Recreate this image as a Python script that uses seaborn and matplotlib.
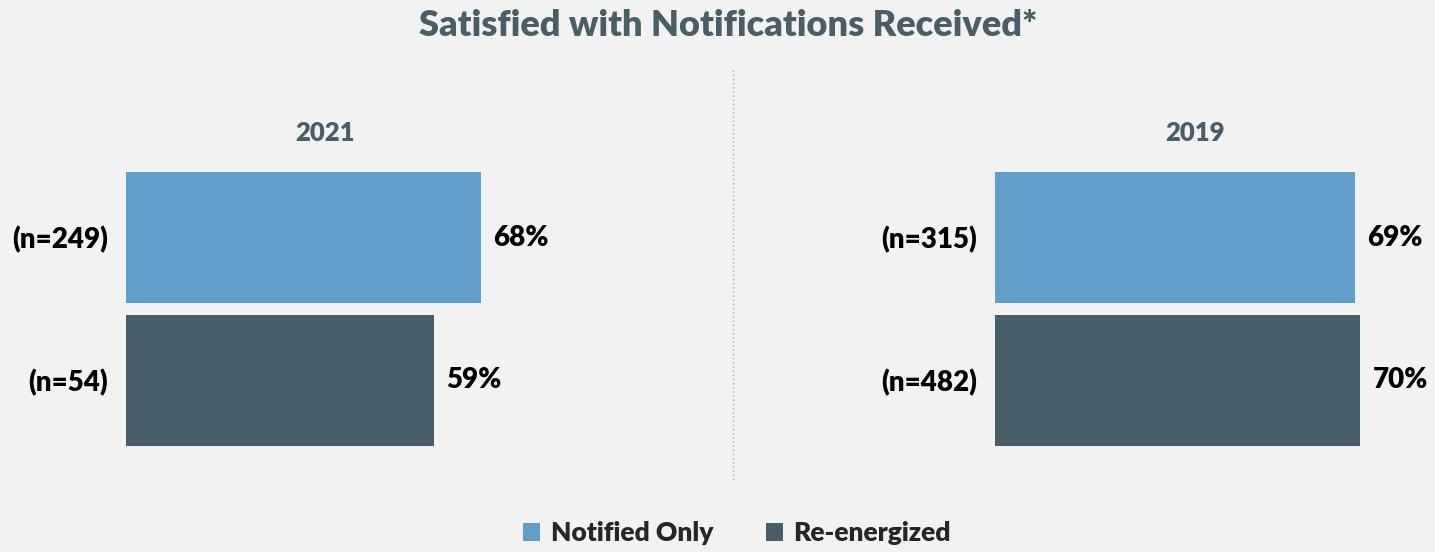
import matplotlib
matplotlib.use("Agg")
import matplotlib.pyplot as plt
from matplotlib.patches import Patch
import seaborn as sns
import pandas as pd

title = "Satisfied with Notifications Received*"
groups = ["Notified Only", "Re-energized"]
panels = ["2021", "2019"]
values_2021 = [68, 59]
values_2019 = [69, 70]
n_2021 = ["(n=249)", "(n=54)"]
n_2019 = ["(n=315)", "(n=482)"]

colors = ["#629ECA", "#475E68"]
bg = "#F2F2F2"
title_col = "#4A5E68"

sns.set_theme(style="white")
plt.rcParams["font.family"] = ["Lato", "DejaVu Sans"]

W, H = 1435, 552
fig = plt.figure(figsize=(W / 100, H / 100), dpi=100, facecolor=bg)

def px_axes(x0, y0, x1, y1):
    return fig.add_axes([x0 / W, 1 - y1 / H, (x1 - x0) / W, (y1 - y0) / H])

scale = 5.22  # px per percent
xmax = 75
ax_specs = [
    (126, values_2021, n_2021, panels[0], 325),
    (995, values_2019, n_2019, panels[1], 1195),
]
for x0, vals, nlabs, ptitle, tx in ax_specs:
    ax = px_axes(x0, 166, x0 + xmax * scale, 452)
    ax.set_facecolor(bg)
    df = pd.DataFrame({"group": groups, "value": vals})
    sns.barplot(data=df, x="value", y="group", hue="group", palette=colors,
                orient="h", width=131 / 143, ax=ax, legend=False, saturation=1,
                linewidth=0, edgecolor="none")
    ax.set_xlim(0, xmax)
    ax.set_ylim(1.5, -0.5)
    ax.set_xlabel("")
    ax.set_ylabel("")
    ax.set_xticks([])
    ax.set_yticks([0, 1])
    ax.set_yticklabels(nlabs, fontsize=20, fontweight="heavy", color="black")
    ax.tick_params(axis="y", length=0, pad=13)
    for s in ax.spines.values():
        s.set_visible(False)
    for i, v in enumerate(vals):
        ax.text(v + 12 / scale, i, f"{v}%", ha="left", va="center",
                fontsize=20, fontweight="heavy", color="black")
    fig.text(tx / W, 1 - 133 / H, ptitle, ha="center", va="center",
             fontsize=18.5, fontweight="heavy", color=title_col)

fig.text(728 / W, 1 - 25 / H, title, ha="center", va="center",
         fontsize=26, fontweight="heavy", color=title_col)

fig.add_artist(plt.Line2D([733 / W, 733 / W], [1 - 70 / H, 1 - 482 / H],
                          transform=fig.transFigure, color="#A6A6A6",
                          lw=1, ls=(0, (1, 2))))

handles = [Patch(facecolor=c, edgecolor="none") for c in colors]
leg = fig.legend(handles, groups, loc="center", bbox_to_anchor=(737 / W, 1 - 533 / H),
                 ncol=2, frameon=False, prop={"size": 19, "weight": "heavy"},
                 handlelength=0.65, handleheight=0.65, handletextpad=0.4,
                 columnspacing=2.0)

fig.savefig("out.png", dpi=100, facecolor=bg)
